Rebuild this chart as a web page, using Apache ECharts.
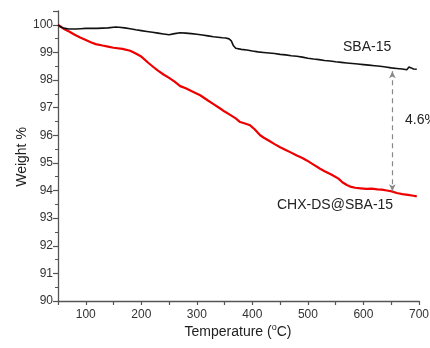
<!DOCTYPE html>
<html>
<head>
<meta charset="utf-8">
<script src="https://cdn.jsdelivr.net/npm/echarts@6/dist/echarts.min.js"></script>
<style>
  html, body { margin: 0; padding: 0; background: #fff; }
  #chart { width: 430px; height: 348px; }
</style>
</head>
<body>
<div id="chart"></div>
<script>
// SBA-15 (black)
var sbaTemp = [50, 55, 60, 70, 82, 90, 100, 110, 120, 130, 140, 154, 160, 170, 180, 190, 200, 210, 220, 230, 240, 250,
  260, 270, 280, 290, 300, 310, 320, 330, 346, 352, 358, 362, 366, 370, 380, 390, 400, 410, 420, 430, 440, 450,
  460, 470, 480, 490, 500, 510, 520, 530, 540, 550, 560, 570, 580, 590, 600, 610, 620, 630, 640, 650, 660, 670,
  678, 682, 686, 690, 696];
var sbaWeight = [100, 99.92, 99.88, 99.85, 99.85, 99.86, 99.87, 99.87, 99.87, 99.88, 99.89, 99.92, 99.91, 99.89, 99.86, 99.82, 99.79, 99.76, 99.73, 99.70, 99.67, 99.64,
  99.68, 99.71, 99.70, 99.68, 99.66, 99.63, 99.60, 99.57, 99.53, 99.52, 99.49, 99.42, 99.24, 99.15, 99.11, 99.09, 99.05, 99.02, 99.00, 98.98, 98.96, 98.93,
  98.91, 98.88, 98.86, 98.83, 98.79, 98.76, 98.74, 98.71, 98.69, 98.66, 98.64, 98.62, 98.60, 98.58, 98.56, 98.54, 98.52, 98.50, 98.47, 98.44, 98.42, 98.40,
  98.37, 98.47, 98.44, 98.40, 98.39];

// CHX-DS@SBA-15 (red)
var chxTemp = [50, 55, 60, 70, 80, 90, 100, 110, 118, 130, 140, 150, 166, 180, 190, 200, 214, 220, 230, 240, 250,
  260, 270, 280, 290, 306, 320, 330, 342, 350, 360, 370, 378, 388, 396, 404, 414, 420, 430, 440, 450, 460, 468, 480,
  490, 498, 510, 522, 530, 542, 555, 562, 570, 578, 585, 595, 605, 615, 625, 633, 642, 651, 660, 670, 680, 690, 696];
var chxWeight = [100, 99.93, 99.86, 99.76, 99.64, 99.54, 99.45, 99.36, 99.30, 99.25, 99.21, 99.17, 99.13, 99.06, 98.96, 98.85, 98.60, 98.50, 98.34, 98.20, 98.08,
  97.94, 97.78, 97.70, 97.60, 97.45, 97.26, 97.13, 96.97, 96.86, 96.74, 96.61, 96.48, 96.42, 96.36, 96.22, 96.00, 95.92, 95.80, 95.68, 95.57, 95.47, 95.39, 95.27,
  95.18, 95.09, 94.94, 94.79, 94.70, 94.58, 94.43, 94.30, 94.20, 94.13, 94.10, 94.08, 94.06, 94.07, 94.04, 94.03, 94.00, 93.97, 93.91, 93.87, 93.84, 93.81, 93.79];

// dashed double arrow marking the weight difference
var gapTemp = 652;
var gapTop = 98.32;
var gapBottom = 93.97;

var xTicks = [100, 200, 300, 400, 500, 600, 700];

function zip(xs, ys) {
  return xs.map(function (x, i) { return [x, ys[i]]; });
}

var font = 'Liberation Sans, Arial, sans-serif';
var axisColor = '#555';

var myChart = echarts.init(document.getElementById('chart'));
var option = {
  backgroundColor: '#fff',
  animation: false,
  grid: { left: 58, right: 11, top: 11, bottom: 47, containLabel: false, outerBoundsMode: 'none' },
  xAxis: {
    type: 'value',
    min: 50,
    max: 700,
    interval: 50,
    name: '',
    splitLine: { show: false },
    axisLine: { lineStyle: { color: axisColor, width: 1.3 } },
    axisTick: { show: true, length: 4, lineStyle: { color: axisColor, width: 1.2 } },
    axisLabel: {
      color: '#333', fontSize: 12, fontFamily: font, margin: 8,
      formatter: function (v) { return xTicks.indexOf(v) >= 0 ? String(v) : ''; }
    }
  },
  yAxis: {
    type: 'value',
    min: 90,
    max: 100.5,
    interval: 1,
    splitLine: { show: false },
    axisLine: { show: true, lineStyle: { color: axisColor, width: 1.3 } },
    axisTick: { show: true, length: 5, lineStyle: { color: axisColor, width: 1.2 } },
    minorTick: { show: true, splitNumber: 2, length: 3, lineStyle: { color: axisColor, width: 1 } },
    axisLabel: {
      color: '#333', fontSize: 12, fontFamily: font, margin: 5,
      showMaxLabel: false,
      formatter: function (v) { return v % 1 === 0 ? String(v) : ''; }
    }
  },
  series: [
    {
      name: 'SBA-15',
      type: 'line',
      data: zip(sbaTemp, sbaWeight),
      showSymbol: false,
      lineStyle: { color: '#111', width: 1.6 },
      z: 3,
      markLine: {
        silent: true,
        symbol: ['arrow', 'arrow'],
        symbolSize: [5, 7],
        label: { show: false },
        lineStyle: { color: '#888', width: 1.2, type: [5, 4] },
        data: [[{ coord: [gapTemp, gapTop] }, { coord: [gapTemp, gapBottom] }]]
      }
    },
    {
      name: 'CHX-DS@SBA-15',
      type: 'line',
      data: zip(chxTemp, chxWeight),
      showSymbol: false,
      lineStyle: { color: '#ee0000', width: 2.2 },
      z: 2
    }
  ],
  graphic: [
    {
      type: 'text', left: 343, top: 40,
      style: { text: 'SBA-15', fill: '#222', font: '14px ' + font }
    },
    {
      type: 'text', left: 405, top: 113,
      style: { text: '4.6%', fill: '#222', font: '14px ' + font }
    },
    {
      type: 'text', left: 277, top: 198,
      style: { text: 'CHX-DS@SBA-15', fill: '#222', font: '14px ' + font }
    },
    {
      type: 'text', x: 22, y: 157, rotation: Math.PI / 2,
      style: { text: 'Weight %', fill: '#222', font: '14px ' + font, align: 'center', verticalAlign: 'middle' }
    },
    {
      type: 'text', x: 238, y: 332,
      style: {
        text: '{n|Temperature (}{s|o}{n|C)}',
        align: 'center', verticalAlign: 'middle',
        rich: {
          n: { fontSize: 14, fontFamily: font, fill: '#222', color: '#222' },
          s: { fontSize: 9, fontFamily: font, fill: '#222', color: '#222', verticalAlign: 'top', padding: [0, 0, 8, 0] }
        }
      }
    }
  ]
};
myChart.setOption(option);
</script>
</body>
</html>
